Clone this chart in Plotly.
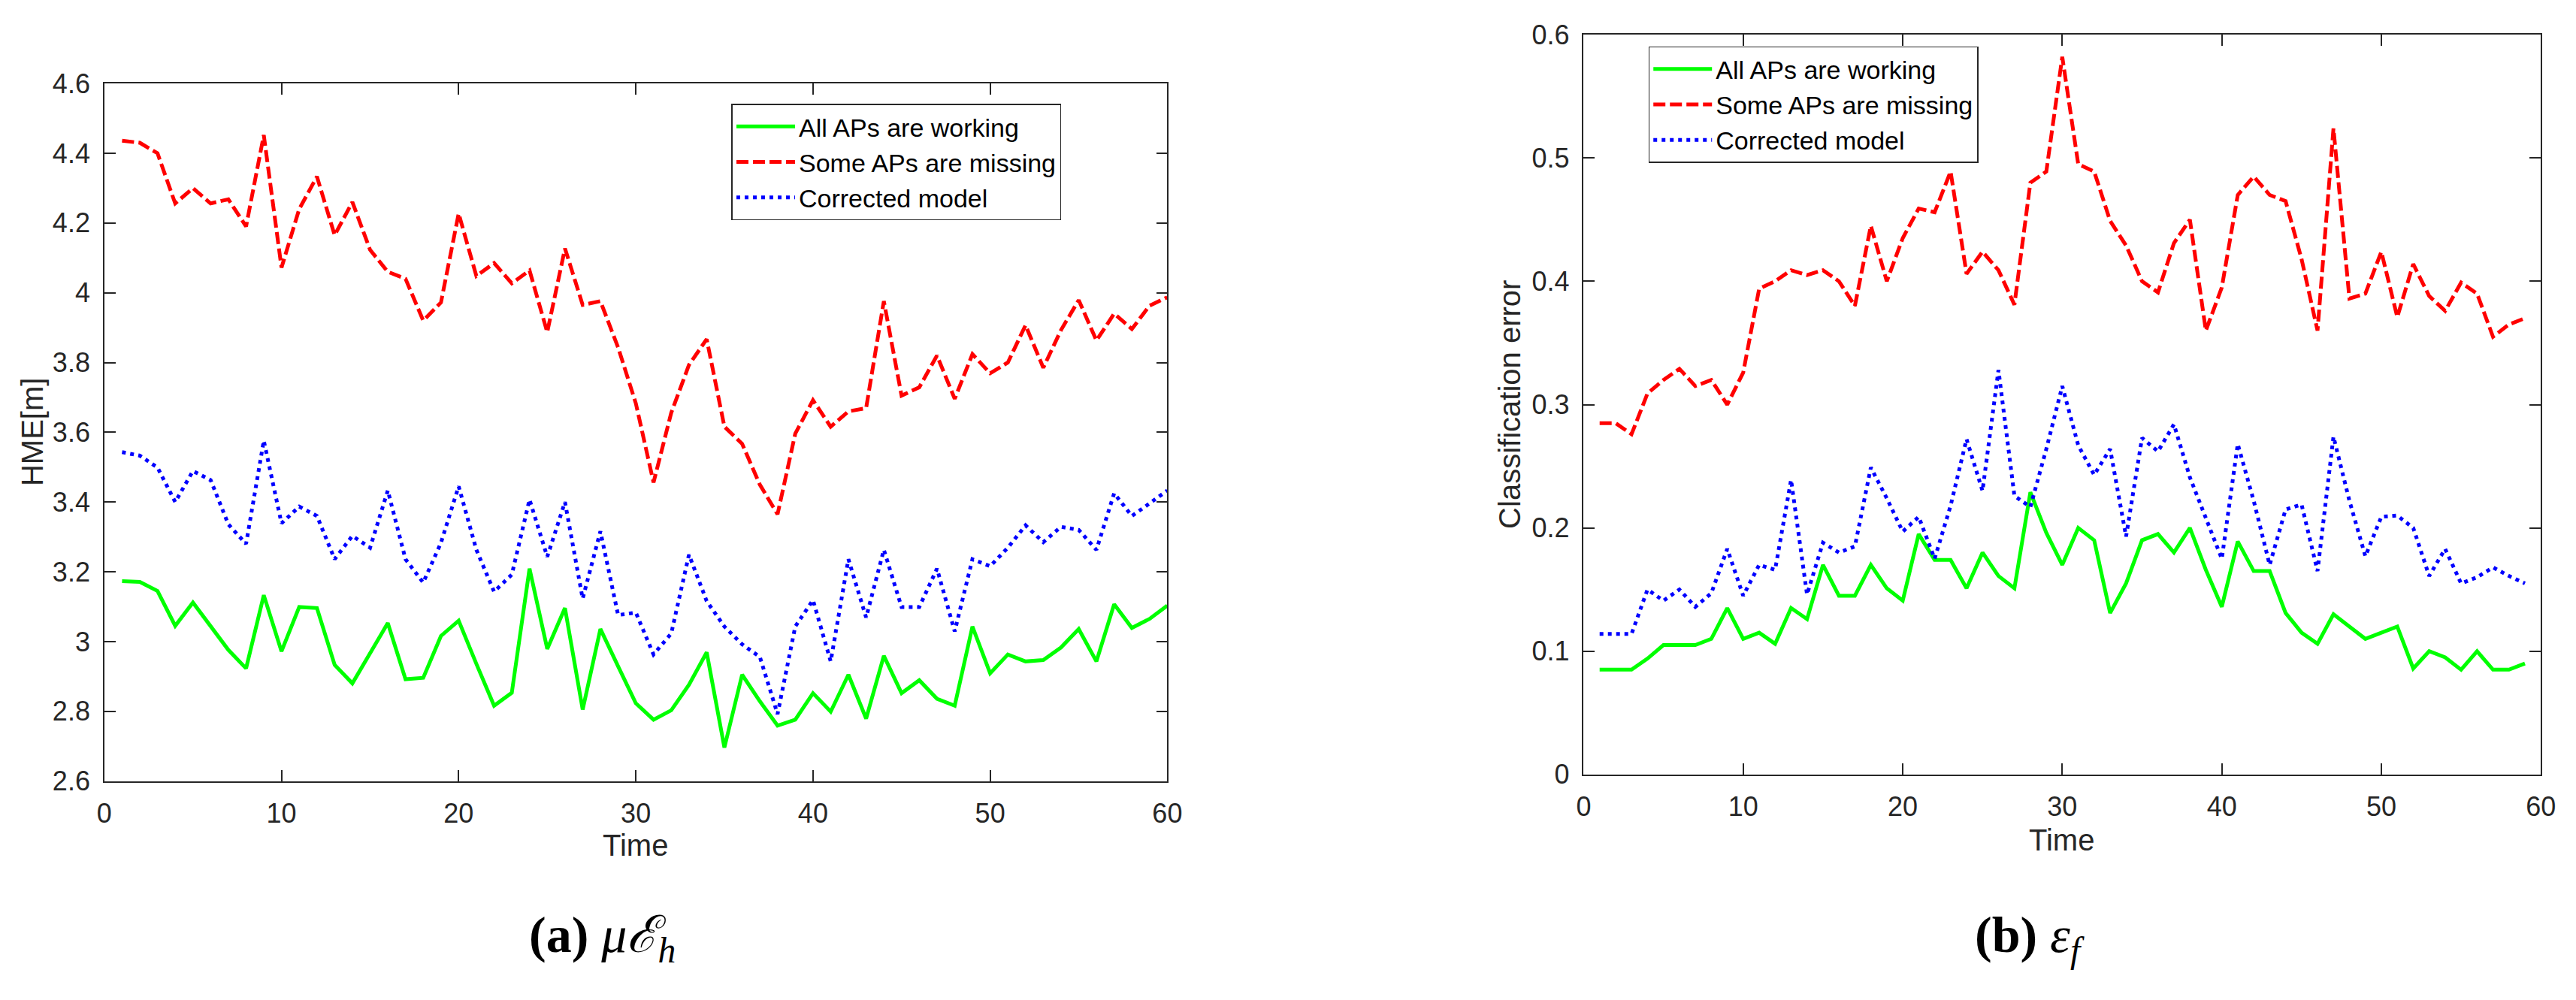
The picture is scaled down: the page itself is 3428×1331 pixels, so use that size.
import plotly.graph_objects as go

# ---------------- data ----------------
time_a = list(range(1, 61))
hme_working = [3.173, 3.171, 3.145, 3.045, 3.112, 3.043, 2.976, 2.923, 3.133, 2.972,
               3.099, 3.096, 2.933, 2.880, 2.969, 3.053, 2.892, 2.896, 3.016, 3.060,
               2.936, 2.816, 2.853, 3.209, 2.979, 3.096, 2.805, 3.036, 2.929, 2.823,
               2.776, 2.803, 2.876, 2.969, 2.696, 2.905, 2.829, 2.759, 2.776, 2.852,
               2.799, 2.905, 2.779, 2.959, 2.852, 2.889, 2.836, 2.816, 3.043, 2.909,
               2.963, 2.943, 2.947, 2.983, 3.036, 2.943, 3.107, 3.039, 3.065, 3.103]
hme_missing = [4.436, 4.430, 4.400, 4.256, 4.300, 4.256, 4.268, 4.190, 4.452, 4.072,
               4.240, 4.333, 4.165, 4.260, 4.123, 4.060, 4.040, 3.920, 3.972, 4.227,
               4.048, 4.085, 4.027, 4.064, 3.887, 4.127, 3.965, 3.976, 3.843, 3.683,
               3.456, 3.656, 3.793, 3.867, 3.616, 3.567, 3.450, 3.365, 3.596, 3.692,
               3.616, 3.660, 3.669, 3.976, 3.705, 3.729, 3.820, 3.696, 3.824, 3.769,
               3.800, 3.907, 3.785, 3.893, 3.979, 3.863, 3.940, 3.896, 3.963, 3.987]
hme_corrected = [3.543, 3.533, 3.499, 3.400, 3.489, 3.463, 3.336, 3.280, 3.576, 3.339,
                 3.387, 3.360, 3.236, 3.303, 3.269, 3.433, 3.236, 3.169, 3.283, 3.445,
                 3.263, 3.143, 3.192, 3.407, 3.243, 3.400, 3.123, 3.316, 3.076, 3.083,
                 2.963, 3.023, 3.249, 3.116, 3.043, 2.992, 2.956, 2.792, 3.043, 3.119,
                 2.943, 3.236, 3.069, 3.263, 3.099, 3.099, 3.209, 3.029, 3.236, 3.216,
                 3.269, 3.333, 3.285, 3.329, 3.320, 3.263, 3.425, 3.360, 3.396, 3.433]

time_b = list(range(1, 60))
err_working = [0.085, 0.085, 0.085, 0.094, 0.105, 0.105, 0.105, 0.110, 0.135, 0.110,
               0.115, 0.106, 0.135, 0.126, 0.170, 0.145, 0.145, 0.170, 0.151, 0.141,
               0.195, 0.174, 0.174, 0.151, 0.180, 0.161, 0.151, 0.229, 0.196, 0.170,
               0.200, 0.190, 0.131, 0.155, 0.190, 0.195, 0.180, 0.200, 0.166, 0.136,
               0.189, 0.165, 0.165, 0.131, 0.115, 0.106, 0.130, 0.120, 0.110, 0.115,
               0.120, 0.086, 0.100, 0.095, 0.085, 0.100, 0.085, 0.085, 0.090]
err_missing = [0.285, 0.285, 0.276, 0.309, 0.320, 0.329, 0.315, 0.320, 0.300, 0.326,
               0.394, 0.400, 0.409, 0.405, 0.409, 0.400, 0.380, 0.445, 0.400, 0.435,
               0.459, 0.456, 0.489, 0.406, 0.424, 0.409, 0.381, 0.480, 0.489, 0.582,
               0.495, 0.489, 0.449, 0.429, 0.400, 0.391, 0.431, 0.450, 0.360, 0.395,
               0.470, 0.485, 0.470, 0.465, 0.418, 0.360, 0.524, 0.386, 0.390, 0.424,
               0.371, 0.414, 0.388, 0.376, 0.399, 0.390, 0.355, 0.365, 0.370]
err_corrected = [0.114, 0.114, 0.114, 0.150, 0.141, 0.150, 0.136, 0.147, 0.183, 0.145,
                 0.170, 0.166, 0.239, 0.146, 0.188, 0.180, 0.185, 0.249, 0.224, 0.197,
                 0.209, 0.175, 0.218, 0.272, 0.230, 0.328, 0.226, 0.217, 0.264, 0.315,
                 0.267, 0.243, 0.264, 0.193, 0.273, 0.262, 0.284, 0.241, 0.207, 0.175,
                 0.268, 0.222, 0.170, 0.215, 0.219, 0.165, 0.274, 0.222, 0.177, 0.209,
                 0.210, 0.200, 0.161, 0.183, 0.155, 0.160, 0.168, 0.161, 0.155]

series_names = ["All APs are working", "Some APs are missing", "Corrected model"]
x_ticks = [0, 10, 20, 30, 40, 50, 60]
ya_ticks = [2.6, 2.8, 3.0, 3.2, 3.4, 3.6, 3.8, 4.0, 4.2, 4.4, 4.6]
ya_labels = ["2.6", "2.8", "3", "3.2", "3.4", "3.6", "3.8", "4", "4.2", "4.4", "4.6"]
yb_ticks = [0, 0.1, 0.2, 0.3, 0.4, 0.5, 0.6]
yb_labels = ["0", "0.1", "0.2", "0.3", "0.4", "0.5", "0.6"]

# ---------------- figure ----------------
W, H = 3428, 1331
def px(x): return x / W
def py(y): return 1 - y / H

styles = [dict(color="#00ff00", width=5),
          dict(color="#ff0000", width=5, dash="16px,6px"),
          dict(color="#0000ff", width=5, dash="5px,6px")]

fig = go.Figure()
for name, ys, st in zip(series_names, [hme_working, hme_missing, hme_corrected], styles):
    fig.add_trace(go.Scatter(x=time_a, y=ys, mode="lines", name=name, line=st,
                             xaxis="x", yaxis="y", legend="legend"))
for name, ys, st in zip(series_names, [err_working, err_missing, err_corrected], styles):
    fig.add_trace(go.Scatter(x=time_b, y=ys, mode="lines", name=name, line=st,
                             xaxis="x2", yaxis="y2", legend="legend2"))

AX = "#262626"
tickfont = dict(family="Liberation Sans, Arial, sans-serif", size=36, color=AX)
common = dict(ticks="inside", ticklen=15, tickwidth=1.5, tickcolor=AX, showline=True,
              linecolor=AX, linewidth=1.5, mirror="ticks", showgrid=False,
              zeroline=False, tickfont=tickfont)

legend_common = dict(xanchor="left", yanchor="top", bgcolor="white",
                     bordercolor=AX, borderwidth=1.5, itemwidth=78, tracegroupgap=0,
                     font=dict(family="Liberation Sans, Arial, sans-serif", size=34,
                               color="black"))

fig.update_layout(
    width=W, height=H, margin=dict(l=0, r=0, t=0, b=0),
    paper_bgcolor="white", plot_bgcolor="white", showlegend=True,
    xaxis=dict(domain=[px(130), px(1557)], range=[0, 60], tickvals=x_ticks,
               anchor="y", ticklabelstandoff=10, **common),
    yaxis=dict(domain=[py(1052), py(94)], range=[2.6, 4.6], tickvals=ya_ticks,
               ticktext=ya_labels, anchor="x", ticklabelstandoff=10, **common),
    xaxis2=dict(domain=[px(2116), px(3401)], range=[0, 60], tickvals=x_ticks,
                anchor="y2", ticklabelstandoff=10, **common),
    yaxis2=dict(domain=[py(1043), py(27)], range=[0, 0.6], tickvals=yb_ticks,
                ticktext=yb_labels, anchor="x2", ticklabelstandoff=10, **common),
    legend=dict(x=px(972), y=py(122), **legend_common),
    legend2=dict(x=px(2203), y=py(43), **legend_common),
)

labfont = dict(family="Liberation Sans, Arial, sans-serif", size=40, color=AX)
capfont = dict(family="Liberation Serif, DejaVu Serif, serif", size=68, color="black")
annotations = [
    dict(text="HME[m]", x=px(34), y=py(573), textangle=-90, font=labfont),
    dict(text="Time", x=px(843), y=py(1140), font=labfont),
    dict(text="Classification error", x=px(2016), y=py(535), textangle=-90, font=labfont),
    dict(text="Time", x=px(2758), y=py(1133), font=labfont),
    dict(text="<b>(a)</b> <i>μℰ</i><sub><i>h</i></sub>", x=px(698), y=py(1268),
         xanchor="left", font=capfont),
    dict(text="<b>(b)</b> <i>ε</i><sub><i>f</i></sub>", x=px(2639), y=py(1268),
         xanchor="left", font=capfont),
]
for a in annotations:
    a.setdefault("xanchor", "center")
    fig.add_annotation(xref="paper", yref="paper", yanchor="middle", showarrow=False, **a)

fig.write_html("out.html", config={"displayModeBar": False},
               post_script="document.body.style.margin='0px';document.body.style.overflow='hidden';")
